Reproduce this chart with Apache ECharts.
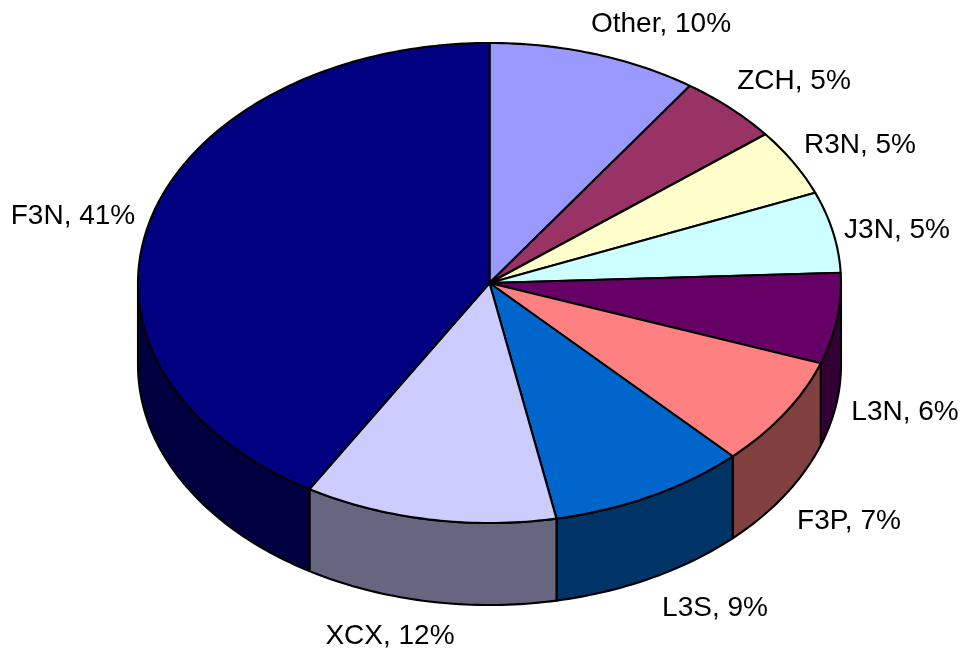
<!DOCTYPE html>
<html>
<head>
<meta charset="utf-8">
<style>html,body{margin:0;padding:0;background:#fff}#chart{width:961px;height:656px}</style>
<script src="https://cdn.jsdelivr.net/npm/echarts@6/dist/echarts.min.js"></script>
</head>
<body>
<div id="chart"></div>
<script>
var categories = ['Other','ZCH','R3N','J3N','L3N','F3P','L3S','XCX','F3N'];
var values = [9.65,4.7,4.5,5.45,6.1,7.4,9.1,11.6,41.4];
var topColors = ['#9999FF','#993366','#FFFFCC','#CCFFFF','#660066','#FF8080','#0066CC','#CCCCFF','#000080'];
var sideColors = ['#4D4D80','#4D1A33','#808066','#668080','#330033','#804040','#003366','#666680','#000040'];
var labelCentres = [[661,24],[794,81],[860,145],[897,230],[905,412],[849,521],[715,608],[390,636],[73,216]];

var CX = 489.5, CY = 283, RX = 351.5, RY = 240, DEPTH = 82;
var total = values.reduce(function (a, b) { return a + b; }, 0);
var starts = [];
values.reduce(function (acc, v, i) { starts[i] = acc; return acc + v; }, 0);

function pt(deg, dy) {
  var r = deg * Math.PI / 180;
  return [CX + RX * Math.sin(r), CY - RY * Math.cos(r) + (dy || 0)];
}
function arc(a, b, dy) {
  var pts = [], n = Math.max(2, Math.ceil((b - a) / 1));
  for (var i = 0; i <= n; i++) pts.push(pt(a + (b - a) * i / n, dy));
  return pts;
}
var stroke = { stroke: '#000', lineWidth: 2.1, lineJoin: 'round' };

function renderItem(params, api) {
  var i = params.dataIndex;
  var a = starts[i] / total * 360, b = (starts[i] + api.value(0)) / total * 360;
  var children = [];
  var sa = Math.max(a, 90), sb = Math.min(b, 270);
  if (sb > sa) {
    children.push({
      type: 'polygon', z2: 1,
      shape: { points: arc(sa, sb, 0).concat(arc(sa, sb, DEPTH).reverse()) },
      style: Object.assign({ fill: sideColors[i] }, stroke)
    });
  }
  children.push({
    type: 'polygon', z2: 2,
    shape: { points: [[CX, CY]].concat(arc(a, b, 0)) },
    style: Object.assign({ fill: topColors[i] }, stroke)
  });
  children.push({
    type: 'text', z2: 3,
    style: {
      x: labelCentres[i][0], y: labelCentres[i][1],
      text: categories[i] + ', ' + Math.round(api.value(0)) + '%',
      align: 'center', verticalAlign: 'middle',
      font: '28px "Liberation Sans", Arial, sans-serif', fill: '#000'
    }
  });
  return { type: 'group', children: children };
}

var chart = echarts.init(document.getElementById('chart'), null, { renderer: 'canvas' });
chart.setOption({
  animation: false,
  backgroundColor: '#fff',
  series: [{
    type: 'custom',
    coordinateSystem: 'none',
    silent: true,
    renderItem: renderItem,
    data: values.map(function (v, i) { return { name: categories[i], value: [v] }; })
  }]
});
</script>
</body>
</html>
